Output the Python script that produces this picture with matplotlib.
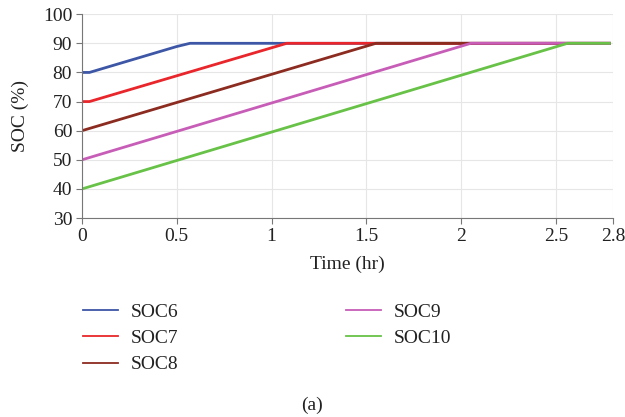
import numpy as np
import matplotlib
matplotlib.use('Agg')
from matplotlib import pyplot as plt

plt.rcParams['font.family'] = ['Liberation Serif', 'DejaVu Serif']

# state of charge curves (time in hr, SOC in %)
t6 = [0, 0.04, 0.5, 0.57, 2.78]
soc6 = [80, 80, 88.9, 90, 90]
t7 = [0, 0.04, 1.08, 2.78]
soc7 = [70, 70, 90, 90]
t8 = [0, 1.55, 2.78]
soc8 = [60, 90, 90]
t9 = [0, 2.05, 2.78]
soc9 = [50, 90, 90]
t10 = [0, 2.56, 2.78]
soc10 = [40, 90, 90]

labels = ['SOC6', 'SOC7', 'SOC8', 'SOC9', 'SOC10']
colors = ['#3d56a6', '#e8262b', '#8c2b20', '#c75db7', '#67c247']
xticks = [0, 0.5, 1, 1.5, 2, 2.5, 2.8]
xticklabels = ['0', '0.5', '1', '1.5', '2', '2.5', '2.8']
yticks = [30, 40, 50, 60, 70, 80, 90, 100]

fs = 14
fig = plt.figure(figsize=(6.25, 4.17), dpi=100)
ax = fig.add_axes([0.131, 0.477, 0.85, 0.489])

series = [(t6, soc6), (t7, soc7), (t8, soc8), (t9, soc9), (t10, soc10)]
for (t, s), c, lab in zip(series, colors, labels):
	ax.plot(t, s, color=c, lw=2, label=lab, solid_joinstyle='round')

ax.set_xlim(0, 2.8)
ax.set_ylim(30, 100)
ax.set_xticks(xticks)
ax.set_xticklabels(xticklabels)
ax.set_yticks(yticks)
ax.grid(True, color='#e6e6e6', lw=0.8)
ax.set_axisbelow(True)
for side in ['top', 'right']:
	ax.spines[side].set_visible(False)
for side in ['left', 'bottom']:
	ax.spines[side].set_color('#777777')
	ax.spines[side].set_linewidth(0.8)
ax.tick_params(direction='out', length=4, width=0.8, color='#777777', labelsize=fs, labelcolor='#222222', pad=3)
ax.set_xlabel('Time (hr)', fontsize=fs, color='#222222', labelpad=8)
ax.set_ylabel('SOC (%)', fontsize=fs, color='#222222', labelpad=10)

# legend below the axes, two columns
handles = [plt.Line2D([], [], color=c, lw=1.3) for c in colors]
fig.legend(handles, labels, ncol=2, loc='upper left', bbox_to_anchor=(0.105, 0.315),
	frameon=False, fontsize=fs, handlelength=1.8, handletextpad=0.67,
	columnspacing=8.6, labelspacing=0.45, labelcolor='#222222')

fig.text(0.5, 1 - 405/417, '(a)', ha='center', va='center', fontsize=fs, color='#222222')

fig.savefig('out.png', dpi=100, facecolor='white')
